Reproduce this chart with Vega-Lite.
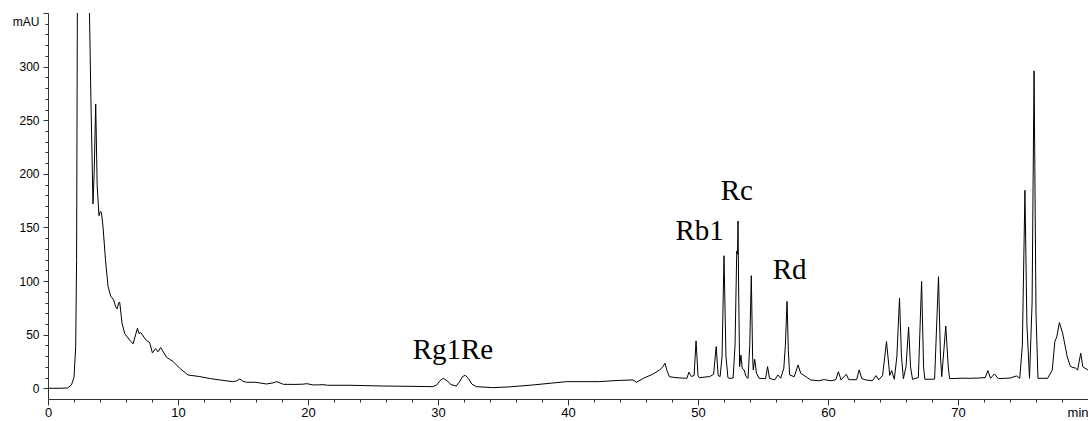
{
 "$schema": "https://vega.github.io/schema/vega-lite/v6.json",
 "width": 1040,
 "height": 386,
 "autosize": {"type": "none"},
 "padding": {"left": 48, "top": 13, "right": 0, "bottom": 22},
 "background": "white",
 "config": {
  "view": {"stroke": null},
  "axis": {"labelFont": "Liberation Sans", "labelColor": "#000", "domainColor": "#333", "tickColor": "#333", "grid": false, "title": null, "domainWidth": 1, "tickWidth": 1}
 },
 "datasets": {
  "trace": [
   {"t":0,"v":0},{"t":1.0,"v":0},{"t":1.5,"v":0.3},{"t":1.8,"v":3},{"t":2.0,"v":10},{"t":2.13,"v":39},{"t":2.2,"v":120},{"t":2.26,"v":360},{"t":2.6,"v":1500},{"t":3.15,"v":380},{"t":3.3,"v":270},{"t":3.46,"v":172},{"t":3.55,"v":200},{"t":3.67,"v":265},{"t":3.78,"v":190},{"t":3.92,"v":161},{"t":4.02,"v":165},{"t":4.11,"v":164},{"t":4.23,"v":151},{"t":4.42,"v":120},{"t":4.62,"v":95},{"t":4.82,"v":86},{"t":5.05,"v":82.5},{"t":5.2,"v":76},{"t":5.31,"v":74},{"t":5.45,"v":80},{"t":5.52,"v":80},{"t":5.69,"v":61},{"t":5.9,"v":51},{"t":6.28,"v":45},{"t":6.54,"v":41.4},{"t":6.88,"v":56},{"t":7.0,"v":51},{"t":7.13,"v":52},{"t":7.57,"v":44.5},{"t":7.82,"v":42.6},{"t":8.03,"v":33},{"t":8.28,"v":37},{"t":8.46,"v":34},{"t":8.67,"v":38},{"t":9.11,"v":29},{"t":9.62,"v":25},{"t":10.13,"v":18.7},{"t":10.77,"v":12.4},{"t":11.67,"v":10.9},{"t":12.5,"v":9},{"t":13.2,"v":7.8},{"t":14.2,"v":6.2},{"t":14.5,"v":6.8},{"t":14.75,"v":8.7},{"t":15.0,"v":6.5},{"t":15.26,"v":5.6},{"t":15.9,"v":5.6},{"t":16.3,"v":5.0},{"t":16.8,"v":4},{"t":17.3,"v":5},{"t":17.6,"v":6.2},{"t":18.1,"v":3.7},{"t":19.0,"v":3.6},{"t":19.6,"v":3.8},{"t":19.9,"v":4.3},{"t":20.4,"v":3.1},{"t":20.8,"v":3.2},{"t":21.15,"v":3.4},{"t":21.5,"v":2.8},{"t":23.2,"v":2.8},{"t":25.8,"v":2.1},{"t":28.0,"v":1.8},{"t":29.6,"v":1.5},{"t":29.9,"v":3},{"t":30.15,"v":7},{"t":30.4,"v":9.3},{"t":30.7,"v":7},{"t":31.0,"v":3.5},{"t":31.4,"v":2.1},{"t":31.65,"v":6},{"t":31.9,"v":11},{"t":32.1,"v":12.1},{"t":32.35,"v":9},{"t":32.6,"v":4},{"t":32.95,"v":1.5},{"t":34.2,"v":0.6},{"t":35.5,"v":1.3},{"t":37.3,"v":3.1},{"t":39.9,"v":6.2},{"t":42.4,"v":6.2},{"t":43.7,"v":7.2},{"t":45.0,"v":7.8},{"t":45.26,"v":5.6},{"t":45.8,"v":9.3},{"t":46.5,"v":13},{"t":47.05,"v":17.1},{"t":47.3,"v":20},{"t":47.46,"v":23.4},{"t":47.6,"v":17},{"t":47.8,"v":10.8},{"t":48.3,"v":9.9},{"t":49.15,"v":9.3},{"t":49.3,"v":15},{"t":49.5,"v":10.9},{"t":49.7,"v":12},{"t":49.85,"v":44.2},{"t":50.0,"v":12},{"t":50.1,"v":9.9},{"t":50.9,"v":10.9},{"t":51.2,"v":13},{"t":51.4,"v":38.9},{"t":51.55,"v":12},{"t":51.7,"v":10.9},{"t":51.85,"v":30},{"t":52.0,"v":123.6},{"t":52.15,"v":30},{"t":52.3,"v":10},{"t":52.4,"v":9.3},{"t":52.7,"v":9.5},{"t":52.85,"v":40},{"t":52.98,"v":128},{"t":53.04,"v":125},{"t":53.08,"v":156},{"t":53.12,"v":100},{"t":53.2,"v":20},{"t":53.3,"v":31},{"t":53.4,"v":18.7},{"t":53.55,"v":17},{"t":53.7,"v":10.8},{"t":53.85,"v":9.3},{"t":53.98,"v":40},{"t":54.1,"v":105},{"t":54.2,"v":30},{"t":54.25,"v":17},{"t":54.36,"v":27},{"t":54.5,"v":14},{"t":54.7,"v":9.3},{"t":55.2,"v":9},{"t":55.35,"v":20.2},{"t":55.5,"v":9.3},{"t":55.9,"v":7.8},{"t":56.15,"v":12.4},{"t":56.36,"v":9.3},{"t":56.6,"v":18.7},{"t":56.72,"v":40},{"t":56.85,"v":81},{"t":56.95,"v":35},{"t":57.05,"v":12.4},{"t":57.4,"v":10.8},{"t":57.7,"v":21.8},{"t":57.9,"v":14},{"t":58.4,"v":10},{"t":58.65,"v":7.8},{"t":59.3,"v":7},{"t":59.7,"v":8.1},{"t":60.2,"v":7},{"t":60.6,"v":8},{"t":60.8,"v":15.5},{"t":61.0,"v":7.8},{"t":61.4,"v":13},{"t":61.6,"v":8},{"t":62.2,"v":8},{"t":62.4,"v":17.1},{"t":62.6,"v":9},{"t":62.9,"v":7.8},{"t":63.4,"v":7},{"t":63.7,"v":11.8},{"t":63.9,"v":7.8},{"t":64.2,"v":12},{"t":64.5,"v":43.6},{"t":64.75,"v":12},{"t":64.9,"v":16.5},{"t":65.1,"v":8.4},{"t":65.3,"v":30},{"t":65.5,"v":84},{"t":65.65,"v":30},{"t":65.8,"v":9},{"t":66.0,"v":20},{"t":66.2,"v":57},{"t":66.35,"v":20},{"t":66.5,"v":8.4},{"t":66.95,"v":10},{"t":67.2,"v":99.6},{"t":67.35,"v":20},{"t":67.45,"v":8.4},{"t":68.2,"v":8.5},{"t":68.5,"v":104},{"t":68.65,"v":30},{"t":68.75,"v":10.8},{"t":69.06,"v":58},{"t":69.25,"v":20},{"t":69.35,"v":9},{"t":70.3,"v":9.4},{"t":70.9,"v":9.3},{"t":71.5,"v":9.5},{"t":72.1,"v":10},{"t":72.3,"v":16.5},{"t":72.5,"v":9.3},{"t":72.8,"v":13.4},{"t":73.1,"v":9},{"t":74.0,"v":9.5},{"t":74.5,"v":11.5},{"t":74.75,"v":9.3},{"t":74.95,"v":40},{"t":75.15,"v":184.7},{"t":75.3,"v":60},{"t":75.5,"v":9.3},{"t":75.7,"v":80},{"t":75.85,"v":296},{"t":76.0,"v":70},{"t":76.15,"v":9.3},{"t":76.9,"v":9.3},{"t":77.25,"v":17},{"t":77.45,"v":43.6},{"t":77.6,"v":48},{"t":77.8,"v":61.3},{"t":78.05,"v":51.4},{"t":78.4,"v":29.5},{"t":78.65,"v":20.2},{"t":79.05,"v":18.7},{"t":79.2,"v":17},{"t":79.44,"v":32.7},{"t":79.6,"v":20},{"t":80.0,"v":17}
  ],
  "labels": [
   {"t": 31.15, "v": 27, "label": "Rg1Re"},
   {"t": 50.13, "v": 138.6, "label": "Rb1"},
   {"t": 52.98, "v": 176, "label": "Rc"},
   {"t": 57.05, "v": 101.9, "label": "Rd"}
  ]
 },
 "layer": [
  {
   "data": {"name": "trace"},
   "mark": {"type": "line", "opacity": 0, "clip": true},
   "encoding": {
    "x": {"field": "t", "type": "quantitative", "scale": {"domain": [0, 80], "nice": false, "zero": false},
          "axis": {"orient": "bottom", "values": [0,2,4,6,8,10,12,14,16,18,20,22,24,26,28,30,32,34,36,38,40,42,44,46,48,50,52,54,56,58,60,62,64,66,68,70,72,74,76,78,80], "labels": false, "domain": false, "tickSize": 3}},
    "y": {"field": "v", "type": "quantitative", "scale": {"domain": [-10, 350], "nice": false, "zero": false},
          "axis": {"orient": "left", "values": [0,10,20,30,40,50,60,70,80,90,100,110,120,130,140,150,160,170,180,190,200,210,220,230,240,250,260,270,280,290,300,310,320,330,340,350], "labels": false, "domain": false, "tickSize": 3}}
   }
  },
  {
   "data": {"name": "trace"},
   "mark": {"type": "line", "color": "#000", "strokeWidth": 1, "clip": true},
   "encoding": {
    "x": {"field": "t", "type": "quantitative",
          "axis": {"orient": "bottom", "values": [0,10,20,30,40,50,60,70,80], "tickSize": 6, "labelFontSize": 13, "labelPadding": 1, "labelFlush": false,
                   "labelExpr": "datum.value == 80 ? 'min' : datum.label",
                   "labelAlign": {"condition": {"test": "datum.value == 80", "value": "right"}, "value": "center"}}},
    "y": {"field": "v", "type": "quantitative",
          "axis": {"orient": "left", "values": [0,50,100,150,200,250,300,350], "tickSize": 5, "labelFontSize": 12, "labelPadding": 4, "labelFlush": true, "labelFlushOffset": -3,
                   "labelExpr": "datum.value == 350 ? 'mAU' : datum.label"}}
   }
  },
  {
   "data": {"name": "labels"},
   "mark": {"type": "text", "font": "'Times New Roman', 'Liberation Serif', Times, serif", "fontSize": 29, "baseline": "alphabetic", "align": "center", "color": "#000"},
   "encoding": {
    "x": {"field": "t", "type": "quantitative", "axis": null},
    "y": {"field": "v", "type": "quantitative", "axis": null},
    "text": {"field": "label"}
   }
  }
 ],
 "resolve": {"axis": {"x": "independent", "y": "independent"}}
}
